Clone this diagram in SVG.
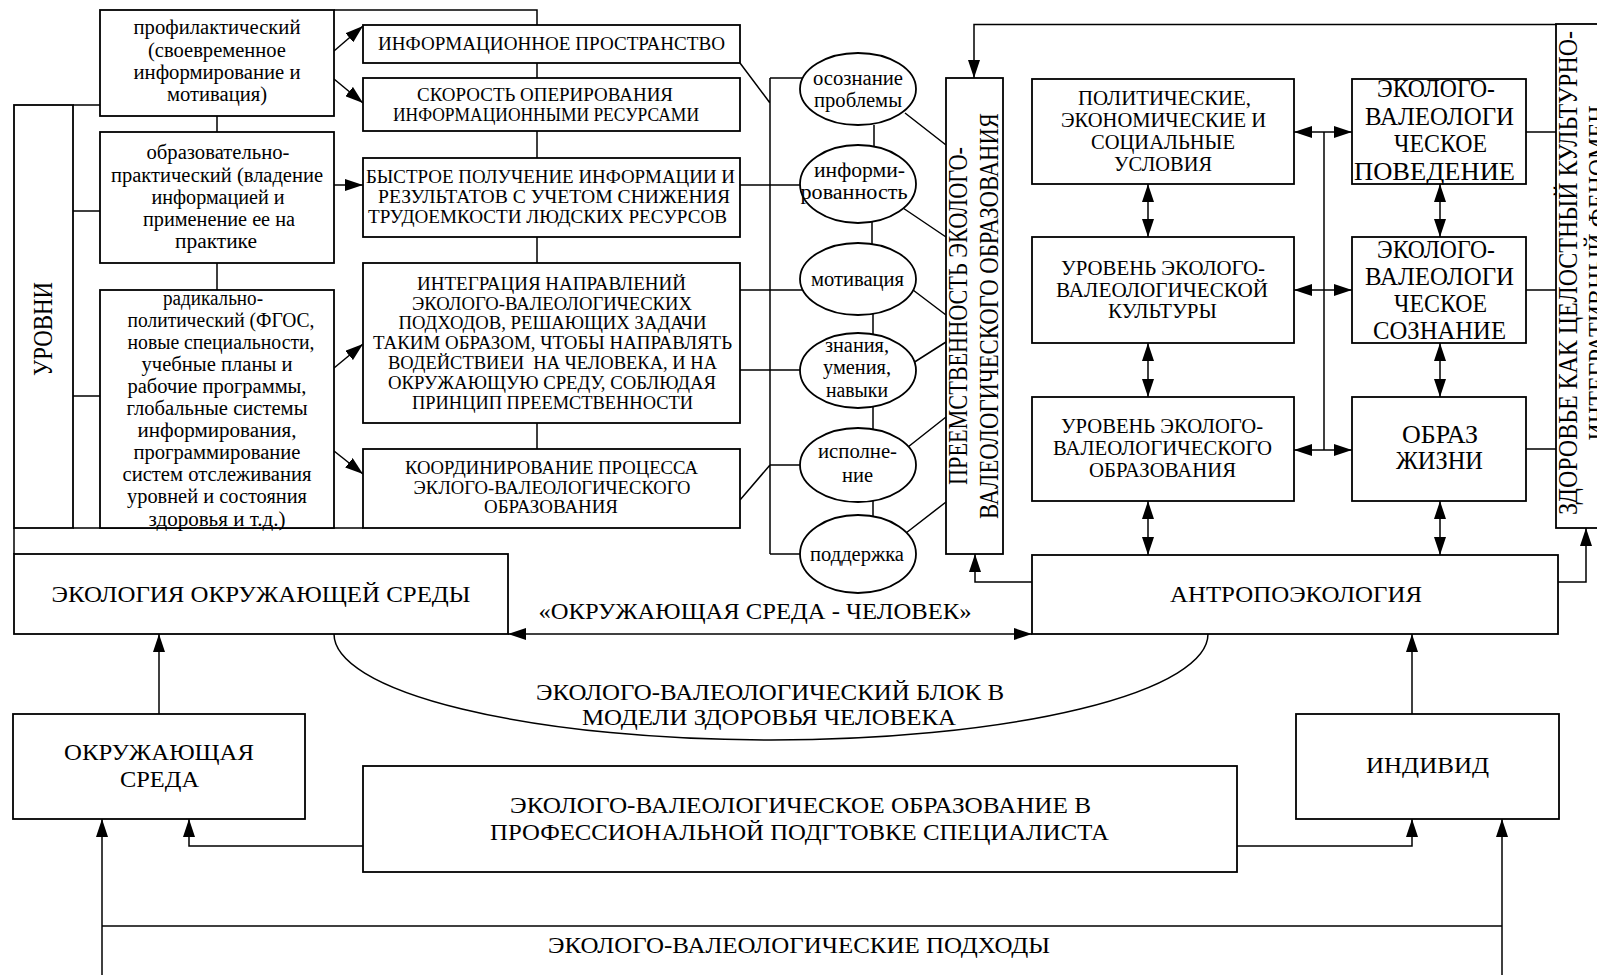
<svg xmlns="http://www.w3.org/2000/svg" width="1597" height="975" viewBox="0 0 1597 975">
<style>
.b{fill:#fff;stroke:#000;stroke-width:1.8}
.l{fill:none;stroke:#000;stroke-width:1.5}
.a{marker-end:url(#ah)}
.d{marker-start:url(#ah);marker-end:url(#ah)}
text{font-family:"Liberation Serif","Times New Roman",serif;fill:#000;text-anchor:middle}
.s20{font-size:20px}
.c19{font-size:19px}
.c20{font-size:20px}
.c25{font-size:25px}
.c24{font-size:24px}
.r{font-size:27px}
</style>
<defs>
<marker id="ah" viewBox="0 0 18 12" refX="18" refY="6" markerWidth="18" markerHeight="12" markerUnits="userSpaceOnUse" orient="auto-start-reverse"><path d="M0,0 L18,6 L0,12 z" fill="#000"/></marker>
</defs>
<rect width="1597" height="975" fill="#fff"/>
<g id="connectors">
<path class="l" d="M14,528 V554 M73,105 H100 M73,211 H100 M73,396 H100 M73,528 H363"/>
<path class="l" d="M217,116 V132 M217,263 V290"/>
<path class="l" d="M334,10 H537 V25"/>
<path class="l a" d="M334,51 L363,26"/>
<path class="l a" d="M334,79 L363,103"/>
<path class="l a" d="M334,185 H363"/>
<path class="l a" d="M334,368 L363,344"/>
<path class="l a" d="M334,451 L363,474"/>
<path class="l" d="M537,63 V78 M537,131 V158 M537,237 V263 M537,423 V449"/>
<path class="l" d="M740,63 L770,103 M770,78 V554 M770,78 H805 M740,185 H805 M740,290 H805 M740,370 H805 M740,500 L770,465 H805 M770,554 H805"/>
<path class="l" d="M874,125 V146 M872,222 V245 M873,314 V334 M873,407 V430 M873,501 V517"/>
<path class="l" d="M905,113 L946,145 M903,208 L946,237 M913,290 L946,315 M913,363 L946,342 M908,447 L946,417 M906,533 L946,502"/>
<path class="l a" d="M1556,24.5 H974 V78"/>
<path class="l a" d="M1032,582 H975 V554"/>
<path class="l" d="M1324,132 V450"/>
<path class="l d" d="M1294,132 H1352"/>
<path class="l d" d="M1294,290 H1352"/>
<path class="l d" d="M1294,450 H1352"/>
<path class="l d" d="M1148,184 V237"/>
<path class="l d" d="M1148,343 V397"/>
<path class="l d" d="M1148,501 V555"/>
<path class="l d" d="M1440,184 V237"/>
<path class="l d" d="M1440,343 V397"/>
<path class="l d" d="M1440,501 V555"/>
<path class="l" d="M1526,132 H1556 M1526,290 H1556 M1526,449 H1556"/>
<path class="l a" d="M1558,582 H1586 V528"/>
<path class="l d" d="M508,634 H1032"/>
<text class="c24" x="755" y="619" textLength="433" lengthAdjust="spacingAndGlyphs">«ОКРУЖАЮЩАЯ СРЕДА - ЧЕЛОВЕК»</text>
<path class="l" d="M334,634 A437,106 0 0 0 1208,634"/>
<text class="c24" x="770" y="700" textLength="468" lengthAdjust="spacingAndGlyphs">ЭКОЛОГО-ВАЛЕОЛОГИЧЕСКИЙ БЛОК В</text>
<text class="c24" x="769" y="725" textLength="374" lengthAdjust="spacingAndGlyphs">МОДЕЛИ ЗДОРОВЬЯ ЧЕЛОВЕКА</text>
<path class="l a" d="M159,714 V634"/>
<path class="l a" d="M1412,714 V634"/>
<path class="l a" d="M363,846 H189 V819"/>
<path class="l a" d="M1237,846 H1412 V819"/>
<path class="l a" d="M102,975 V819"/>
<path class="l a" d="M1502,975 V819"/>
<path class="l" d="M102,926 H1502"/>
<text class="c24" x="799" y="953" textLength="502" lengthAdjust="spacingAndGlyphs">ЭКОЛОГО-ВАЛЕОЛОГИЧЕСКИЕ ПОДХОДЫ</text>
</g>
<g id="n-urovni">
<rect class="b" x="14" y="105" width="59" height="423"/>
<text class="r" transform="translate(52,329) rotate(-90)" textLength="94" lengthAdjust="spacingAndGlyphs">УРОВНИ</text>
</g>
<g id="n-profil">
<rect class="b" x="100" y="10" width="234" height="106"/>
<text class="s20" x="217" y="34" textLength="167" lengthAdjust="spacingAndGlyphs">профилактический</text>
<text class="s20" x="217" y="57" textLength="138" lengthAdjust="spacingAndGlyphs">(своевременное</text>
<text class="s20" x="217" y="79" textLength="167" lengthAdjust="spacingAndGlyphs">информирование и</text>
<text class="s20" x="217" y="101" textLength="100" lengthAdjust="spacingAndGlyphs">мотивация)</text>
</g>
<g id="n-obraz">
<rect class="b" x="100" y="132" width="234" height="131"/>
<text class="s20" x="218" y="159" textLength="143" lengthAdjust="spacingAndGlyphs">образовательно-</text>
<text class="s20" x="217" y="182" textLength="212" lengthAdjust="spacingAndGlyphs">практический (владение</text>
<text class="s20" x="218" y="204" textLength="133" lengthAdjust="spacingAndGlyphs">информацией и</text>
<text class="s20" x="219" y="226" textLength="152" lengthAdjust="spacingAndGlyphs">применение ее на</text>
<text class="s20" x="216" y="248" textLength="82" lengthAdjust="spacingAndGlyphs">практике</text>
</g>
<g id="n-radical">
<rect class="b" x="100" y="290" width="234" height="238"/>
<text class="s20" x="213" y="304.5" textLength="100" lengthAdjust="spacingAndGlyphs">радикально-</text>
<text class="s20" x="221" y="326.6" textLength="187" lengthAdjust="spacingAndGlyphs">политический (ФГОС,</text>
<text class="s20" x="221" y="348.7" textLength="187" lengthAdjust="spacingAndGlyphs">новые специальности,</text>
<text class="s20" x="217" y="370.8" textLength="151" lengthAdjust="spacingAndGlyphs">учебные планы и</text>
<text class="s20" x="217" y="392.9" textLength="179" lengthAdjust="spacingAndGlyphs">рабочие программы,</text>
<text class="s20" x="217" y="415" textLength="181" lengthAdjust="spacingAndGlyphs">глобальные системы</text>
<text class="s20" x="217" y="437.1" textLength="159" lengthAdjust="spacingAndGlyphs">информирования,</text>
<text class="s20" x="217" y="459.2" textLength="167" lengthAdjust="spacingAndGlyphs">программирование</text>
<text class="s20" x="217" y="481.3" textLength="189" lengthAdjust="spacingAndGlyphs">систем отслеживания</text>
<text class="s20" x="217" y="503.4" textLength="180" lengthAdjust="spacingAndGlyphs">уровней и состояния</text>
<text class="s20" x="217" y="525.5" textLength="137" lengthAdjust="spacingAndGlyphs">здоровья и т.д.)</text>
</g>
<g id="n-info">
<rect class="b" x="363" y="25" width="377" height="38"/>
<text class="c19" x="551.5" y="50" textLength="347" lengthAdjust="spacingAndGlyphs">ИНФОРМАЦИОННОЕ ПРОСТРАНСТВО</text>
</g>
<g id="n-speed">
<rect class="b" x="363" y="78" width="377" height="53"/>
<text class="c19" x="545" y="101" textLength="256" lengthAdjust="spacingAndGlyphs">СКОРОСТЬ ОПЕРИРОВАНИЯ</text>
<text class="c19" x="546" y="121" textLength="306" lengthAdjust="spacingAndGlyphs">ИНФОРМАЦИОННЫМИ РЕСУРСАМИ</text>
</g>
<g id="n-fast">
<rect class="b" x="363" y="158" width="377" height="79"/>
<text class="c19" x="550.5" y="183" textLength="369" lengthAdjust="spacingAndGlyphs">БЫСТРОЕ ПОЛУЧЕНИЕ ИНФОРМАЦИИ И</text>
<text class="c19" x="554" y="203" textLength="352" lengthAdjust="spacingAndGlyphs">РЕЗУЛЬТАТОВ С УЧЕТОМ СНИЖЕНИЯ</text>
<text class="c19" x="547.5" y="223" textLength="359" lengthAdjust="spacingAndGlyphs">ТРУДОЕМКОСТИ ЛЮДСКИХ РЕСУРСОВ</text>
</g>
<g id="n-integr">
<rect class="b" x="363" y="263" width="377" height="160"/>
<text class="c19" x="551.5" y="289.5" textLength="269" lengthAdjust="spacingAndGlyphs">ИНТЕГРАЦИЯ НАПРАВЛЕНИЙ</text>
<text class="c19" x="552" y="309.5" textLength="280" lengthAdjust="spacingAndGlyphs">ЭКОЛОГО-ВАЛЕОЛОГИЧЕСКИХ</text>
<text class="c19" x="552.5" y="329.3" textLength="308" lengthAdjust="spacingAndGlyphs">ПОДХОДОВ, РЕШАЮЩИХ ЗАДАЧИ</text>
<text class="c19" x="552.5" y="349.2" textLength="359" lengthAdjust="spacingAndGlyphs">ТАКИМ ОБРАЗОМ, ЧТОБЫ НАПРАВЛЯТЬ</text>
<text class="c19" x="552.5" y="369.1" textLength="329" lengthAdjust="spacingAndGlyphs" xml:space="preserve">ВОДЕЙСТВИЕИ  НА ЧЕЛОВЕКА, И НА</text>
<text class="c19" x="552" y="389" textLength="328" lengthAdjust="spacingAndGlyphs">ОКРУЖАЮЩУЮ СРЕДУ, СОБЛЮДАЯ</text>
<text class="c19" x="552.5" y="408.9" textLength="281" lengthAdjust="spacingAndGlyphs">ПРИНЦИП ПРЕЕМСТВЕННОСТИ</text>
</g>
<g id="n-coord">
<rect class="b" x="363" y="449" width="377" height="79"/>
<text class="c19" x="551.5" y="474" textLength="293" lengthAdjust="spacingAndGlyphs">КООРДИНИРОВАНИЕ ПРОЦЕССА</text>
<text class="c19" x="552" y="494" textLength="277" lengthAdjust="spacingAndGlyphs">ЭКЛОГО-ВАЛЕОЛОГИЧЕСКОГО</text>
<text class="c19" x="551" y="513" textLength="134" lengthAdjust="spacingAndGlyphs">ОБРАЗОВАНИЯ</text>
</g>
<g id="n-e1">
<ellipse class="b" cx="858" cy="89" rx="58" ry="36"/>
<text class="s20" x="858" y="85" textLength="90" lengthAdjust="spacingAndGlyphs">осознание</text>
<text class="s20" x="858" y="107" textLength="88" lengthAdjust="spacingAndGlyphs">проблемы</text>
</g>
<g id="n-e2">
<ellipse class="b" cx="858" cy="184" rx="58" ry="39"/>
<text class="s20" x="859.5" y="177" textLength="91" lengthAdjust="spacingAndGlyphs">информи-</text>
<text class="s20" x="854" y="199" textLength="107" lengthAdjust="spacingAndGlyphs">рованность</text>
</g>
<g id="n-e3">
<ellipse class="b" cx="858" cy="279" rx="58" ry="36"/>
<text class="s20" x="857.5" y="286" textLength="93" lengthAdjust="spacingAndGlyphs">мотивация</text>
</g>
<g id="n-e4">
<ellipse class="b" cx="858" cy="370.5" rx="58" ry="37.5"/>
<text class="s20" x="857" y="352" textLength="64" lengthAdjust="spacingAndGlyphs">знания,</text>
<text class="s20" x="857" y="374" textLength="68" lengthAdjust="spacingAndGlyphs">умения,</text>
<text class="s20" x="857" y="397" textLength="62" lengthAdjust="spacingAndGlyphs">навыки</text>
</g>
<g id="n-e5">
<ellipse class="b" cx="858" cy="465" rx="58" ry="37"/>
<text class="s20" x="857.5" y="458" textLength="79" lengthAdjust="spacingAndGlyphs">исполне-</text>
<text class="s20" x="857.5" y="482" textLength="31" lengthAdjust="spacingAndGlyphs">ние</text>
</g>
<g id="n-e6">
<ellipse class="b" cx="858" cy="554" rx="58" ry="39"/>
<text class="s20" x="857" y="561" textLength="94" lengthAdjust="spacingAndGlyphs">поддержка</text>
</g>
<g id="n-preem">
<rect class="b" x="946" y="78" width="57" height="476"/>
<text class="r" transform="translate(967,316) rotate(-90)" textLength="338" lengthAdjust="spacingAndGlyphs">ПРЕЕМСТВЕННОСТЬ ЭКОЛОГО-</text>
<text class="r" transform="translate(998,316) rotate(-90)" textLength="406" lengthAdjust="spacingAndGlyphs">ВАЛЕОЛОГИЧЕСКОГО ОБРАЗОВАНИЯ</text>
</g>
<g id="n-polit">
<rect class="b" x="1032" y="79" width="262" height="105"/>
<text class="c20" x="1164.5" y="105" textLength="173" lengthAdjust="spacingAndGlyphs">ПОЛИТИЧЕСКИЕ,</text>
<text class="c20" x="1163.5" y="127" textLength="205" lengthAdjust="spacingAndGlyphs">ЭКОНОМИЧЕСКИЕ И</text>
<text class="c20" x="1163" y="149" textLength="144" lengthAdjust="spacingAndGlyphs">СОЦИАЛЬНЫЕ</text>
<text class="c20" x="1163" y="171" textLength="98" lengthAdjust="spacingAndGlyphs">УСЛОВИЯ</text>
</g>
<g id="n-culture">
<rect class="b" x="1032" y="237" width="262" height="106"/>
<text class="c20" x="1163" y="275" textLength="204" lengthAdjust="spacingAndGlyphs">УРОВЕНЬ ЭКОЛОГО-</text>
<text class="c20" x="1162" y="297" textLength="212" lengthAdjust="spacingAndGlyphs">ВАЛЕОЛОГИЧЕСКОЙ</text>
<text class="c20" x="1162.5" y="318" textLength="109" lengthAdjust="spacingAndGlyphs">КУЛЬТУРЫ</text>
</g>
<g id="n-edu">
<rect class="b" x="1032" y="397" width="262" height="104"/>
<text class="c20" x="1162" y="433" textLength="202" lengthAdjust="spacingAndGlyphs">УРОВЕНЬ ЭКОЛОГО-</text>
<text class="c20" x="1162.5" y="455" textLength="219" lengthAdjust="spacingAndGlyphs">ВАЛЕОЛОГИЧЕСКОГО</text>
<text class="c20" x="1162.5" y="477" textLength="147" lengthAdjust="spacingAndGlyphs">ОБРАЗОВАНИЯ</text>
</g>
<g id="n-behav">
<rect class="b" x="1352" y="79" width="174" height="105"/>
<text class="c25" x="1436" y="97" textLength="118" lengthAdjust="spacingAndGlyphs">ЭКОЛОГО-</text>
<text class="c25" x="1439.5" y="125" textLength="149" lengthAdjust="spacingAndGlyphs">ВАЛЕОЛОГИ</text>
<text class="c25" x="1440.5" y="152" textLength="93" lengthAdjust="spacingAndGlyphs">ЧЕСКОЕ</text>
<text class="c25" x="1434.5" y="180" textLength="161" lengthAdjust="spacingAndGlyphs">ПОВЕДЕНИЕ</text>
</g>
<g id="n-consc">
<rect class="b" x="1352" y="237" width="174" height="106"/>
<text class="c25" x="1436" y="258" textLength="118" lengthAdjust="spacingAndGlyphs">ЭКОЛОГО-</text>
<text class="c25" x="1439.5" y="285" textLength="149" lengthAdjust="spacingAndGlyphs">ВАЛЕОЛОГИ</text>
<text class="c25" x="1440.5" y="312" textLength="93" lengthAdjust="spacingAndGlyphs">ЧЕСКОЕ</text>
<text class="c25" x="1439.5" y="339" textLength="133" lengthAdjust="spacingAndGlyphs">СОЗНАНИЕ</text>
</g>
<g id="n-life">
<rect class="b" x="1352" y="397" width="174" height="104"/>
<text class="c25" x="1440" y="443" textLength="76" lengthAdjust="spacingAndGlyphs">ОБРАЗ</text>
<text class="c25" x="1439.5" y="469" textLength="87" lengthAdjust="spacingAndGlyphs">ЖИЗНИ</text>
</g>
<g id="n-zdorov">
<rect class="b" x="1556" y="24" width="60" height="504"/>
<text class="r" transform="translate(1577,273) rotate(-90)" textLength="484" lengthAdjust="spacingAndGlyphs">ЗДОРОВЬЕ КАК ЦЕЛОСТНЫЙ КУЛЬТУРНО-</text>
<text class="r" transform="translate(1607,273) rotate(-90)" textLength="335" lengthAdjust="spacingAndGlyphs">ИНТЕГРАТИВНЫЙ ФЕНОМЕН</text>
</g>
<g id="n-ecology">
<rect class="b" x="14" y="554" width="494" height="80"/>
<text class="c24" x="261" y="602" textLength="419" lengthAdjust="spacingAndGlyphs">ЭКОЛОГИЯ ОКРУЖАЮЩЕЙ СРЕДЫ</text>
</g>
<g id="n-antropo">
<rect class="b" x="1032" y="555" width="526" height="79"/>
<text class="c24" x="1296" y="602" textLength="252" lengthAdjust="spacingAndGlyphs">АНТРОПОЭКОЛОГИЯ</text>
</g>
<g id="n-okruzh">
<rect class="b" x="13" y="714" width="292" height="105"/>
<text class="c24" x="159" y="760" textLength="190" lengthAdjust="spacingAndGlyphs">ОКРУЖАЮЩАЯ</text>
<text class="c24" x="159.5" y="787" textLength="79" lengthAdjust="spacingAndGlyphs">СРЕДА</text>
</g>
<g id="n-indiv">
<rect class="b" x="1296" y="714" width="263" height="105"/>
<text class="c24" x="1427.5" y="773" textLength="123" lengthAdjust="spacingAndGlyphs">ИНДИВИД</text>
</g>
<g id="n-prof">
<rect class="b" x="363" y="766" width="874" height="106"/>
<text class="c24" x="800.5" y="813" textLength="581" lengthAdjust="spacingAndGlyphs">ЭКОЛОГО-ВАЛЕОЛОГИЧЕСКОЕ ОБРАЗОВАНИЕ В</text>
<text class="c24" x="799.5" y="840" textLength="619" lengthAdjust="spacingAndGlyphs">ПРОФЕССИОНАЛЬНОЙ ПОДГТОВКЕ СПЕЦИАЛИСТА</text>
</g>
</svg>
